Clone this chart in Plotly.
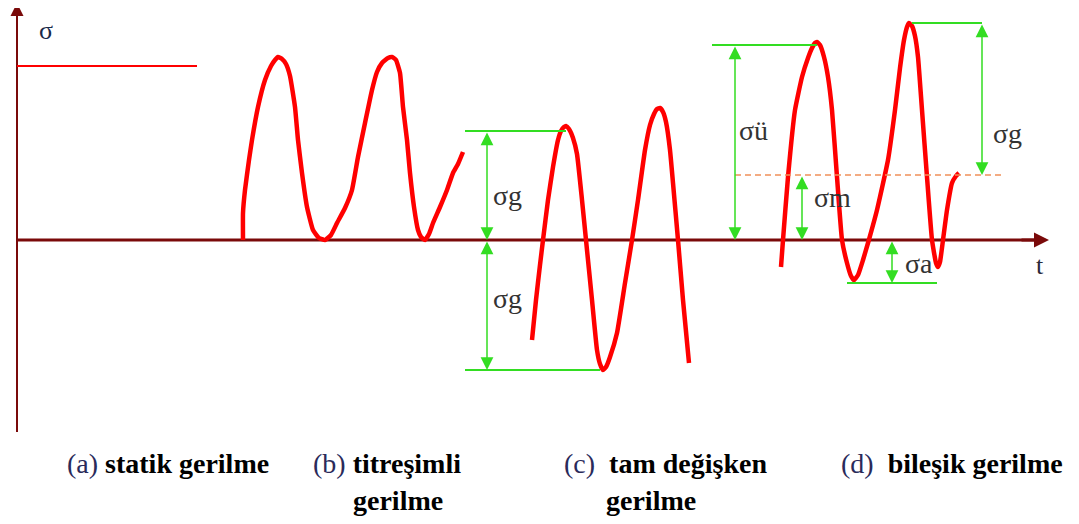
import plotly.graph_objects as go

# ---- data (t in time units, sigma in stress units; baseline sigma = 0) ----
static_t = [17, 197]
static_s = [174, 174]

pulse_t = [243, 243, 245, 249, 252, 258, 265, 271, 275, 278, 282, 286, 290, 295, 298, 302, 307, 313, 319, 325,
           331, 337, 345, 352, 358, 365, 372, 377, 382, 388, 392, 396, 400, 403, 407, 410, 414, 418, 421, 425,
           429, 433, 440, 447, 453, 458, 463]
pulse_s = [0, 27, 50, 80, 100, 133, 160, 174, 180, 183, 181, 176, 164, 133, 100, 67, 33, 10, 2, 0,
           5, 17, 32, 50, 83, 117, 150, 168, 177, 182, 183, 180, 167, 133, 100, 67, 33, 10, 3, 0,
           6, 17, 33, 50, 67, 76, 88]

rev_t = [532, 536, 540, 543, 548, 553, 558, 561, 564, 566, 569, 573, 577, 582, 586, 592, 597, 600, 603, 606, 610,
         617, 625, 632, 638, 645, 650, 654, 657, 660, 663, 666, 670, 673, 678, 683, 689]
rev_s = [-100, -60, -25, 0, 40, 73, 100, 109, 113, 114, 111, 102, 86, 40, 0, -60, -110, -124, -130, -127, -117,
         -93, -43, 0, 40, 90, 115, 126, 131, 132, 128, 118, 90, 57, 0, -60, -123]

comb_t = [781, 783, 788, 795, 802, 808, 812, 815, 817, 820, 824, 828, 832, 837, 842, 847, 851, 854, 858, 863,
          868, 877, 888, 895, 900, 904, 907, 909, 912, 915, 918, 922, 927, 932, 936, 938, 940,
          943, 947, 952, 956, 959]
comb_s = [-27, 0, 63, 130, 163, 182, 192, 197, 198, 195, 183, 163, 130, 63, 0, -23, -36, -40, -35, -20,
          -3, 30, 80, 130, 172, 200, 213, 217, 214, 204, 183, 130, 63, 0, -23, -27, -22,
          0, 30, 57, 64, 67]

# reference levels
c_top, c_bot = 109, -130
d_max, d_mean, d_top2, d_min = 195, 65, 217, -43

# green guide lines: (t0, t1, sigma)
guides = [(465, 566, c_top), (465, 600, c_bot), (712, 817, d_max),
          (912, 982, d_top2), (847, 937, d_min)]
# double arrows: (t, sigma_from, sigma_to)
arrows = [(487, c_top, 0), (487, 0, c_bot), (735, d_max, 0),
          (802, d_mean, 0), (982, d_top2, d_mean), (892, 0, d_min)]
# symbol labels: (text, t, sigma)
sym_labels = [("σg", 507, 45), ("σg", 507, -58), ("σü", 753, 110),
              ("σm", 832, 43), ("σg", 1007, 107), ("σa", 919, -23)]
# captions
captions = [
    ("<span style='color:#2a2a5a'>(a)</span> <b>statik gerilme</b>", 65, -223),
    ("<span style='color:#2a2a5a'>(b)</span> <b>titreşimli</b>", 311, -223),
    ("<b>gerilme</b>", 351, -260),
    ("<span style='color:#2a2a5a'>(c)</span>  <b>tam değişken</b>", 562, -223),
    ("<b>gerilme</b>", 604, -260),
    ("<span style='color:#2a2a5a'>(d)</span>  <b>bileşik gerilme</b>", 839, -223),
]

RED = "#ff0000"
GREEN = "#33dd22"
AXIS = "#7a0a0a"

fig = go.Figure()

# axes lines
fig.add_trace(go.Scatter(x=[17, 1036], y=[0, 0], mode="lines",
                         line=dict(color=AXIS, width=3), hoverinfo="skip"))
fig.add_trace(go.Scatter(x=[17, 17], y=[-192, 226], mode="lines",
                         line=dict(color=AXIS, width=2), hoverinfo="skip"))

# static stress
fig.add_trace(go.Scatter(x=static_t, y=static_s, mode="lines",
                         line=dict(color=RED, width=2), hoverinfo="skip"))

# curves
for tt, ss in [(pulse_t, pulse_s), (rev_t, rev_s), (comb_t, comb_s)]:
    fig.add_trace(go.Scatter(x=tt, y=ss, mode="lines",
                             line=dict(color=RED, width=4.5, shape="spline", smoothing=0.4),
                             hoverinfo="skip"))

# mean dashed line
fig.add_trace(go.Scatter(x=[735, 1005], y=[d_mean, d_mean], mode="lines",
                         line=dict(color="#f0905a", width=1.5, dash="6px,4px"),
                         hoverinfo="skip"))

# green guides
for t0, t1, s in guides:
    fig.add_trace(go.Scatter(x=[t0, t1], y=[s, s], mode="lines",
                             line=dict(color=GREEN, width=2), hoverinfo="skip"))

annotations = []
for t, s0, s1 in arrows:
    annotations.append(dict(x=t, y=s1, ax=t, ay=s0, xref="x", yref="y",
                            axref="x", ayref="y", text="", showarrow=True,
                            arrowhead=2, arrowside="end+start", arrowsize=1.7,
                            arrowwidth=1.5, arrowcolor=GREEN))

# axis arrowheads
annotations.append(dict(x=1049, y=0, ax=1020, ay=0, xref="x", yref="y",
                        axref="x", ayref="y", text="", showarrow=True,
                        arrowhead=2, arrowsize=1.0, arrowwidth=3, arrowcolor=AXIS))
annotations.append(dict(x=17, y=237, ax=17, ay=210, xref="x", yref="y",
                        axref="x", ayref="y", text="", showarrow=True,
                        arrowhead=2, arrowsize=1.3, arrowwidth=2, arrowcolor=AXIS))

for txt, t, s in sym_labels:
    annotations.append(dict(x=t, y=s, xref="x", yref="y", text=txt, showarrow=False,
                            font=dict(family="Liberation Serif", size=28, color="#333333")))

annotations.append(dict(x=46, y=210, xref="x", yref="y", text="σ", showarrow=False,
                        font=dict(family="Liberation Serif", size=26, color="#1a2a4a")))
annotations.append(dict(x=1040, y=-25, xref="x", yref="y", text="t", showarrow=False,
                        font=dict(family="Liberation Serif", size=26, color="#2a2a3a")))

for txt, t, s in captions:
    annotations.append(dict(x=t, y=s, xref="x", yref="y", text=txt, showarrow=False,
                            xanchor="left",
                            font=dict(family="Liberation Serif", size=28, color="#000000")))

# page has an 8px body margin: the plot starts 8px in from the page corner
fig.update_layout(
    width=1071, height=516,
    margin=dict(l=0, r=0, t=0, b=0),
    paper_bgcolor="white", plot_bgcolor="white",
    showlegend=False,
    xaxis=dict(range=[8, 1079], visible=False, fixedrange=True),
    yaxis=dict(range=[-284, 232], visible=False, fixedrange=True),
    annotations=annotations,
)

fig.write_html("out.html")
